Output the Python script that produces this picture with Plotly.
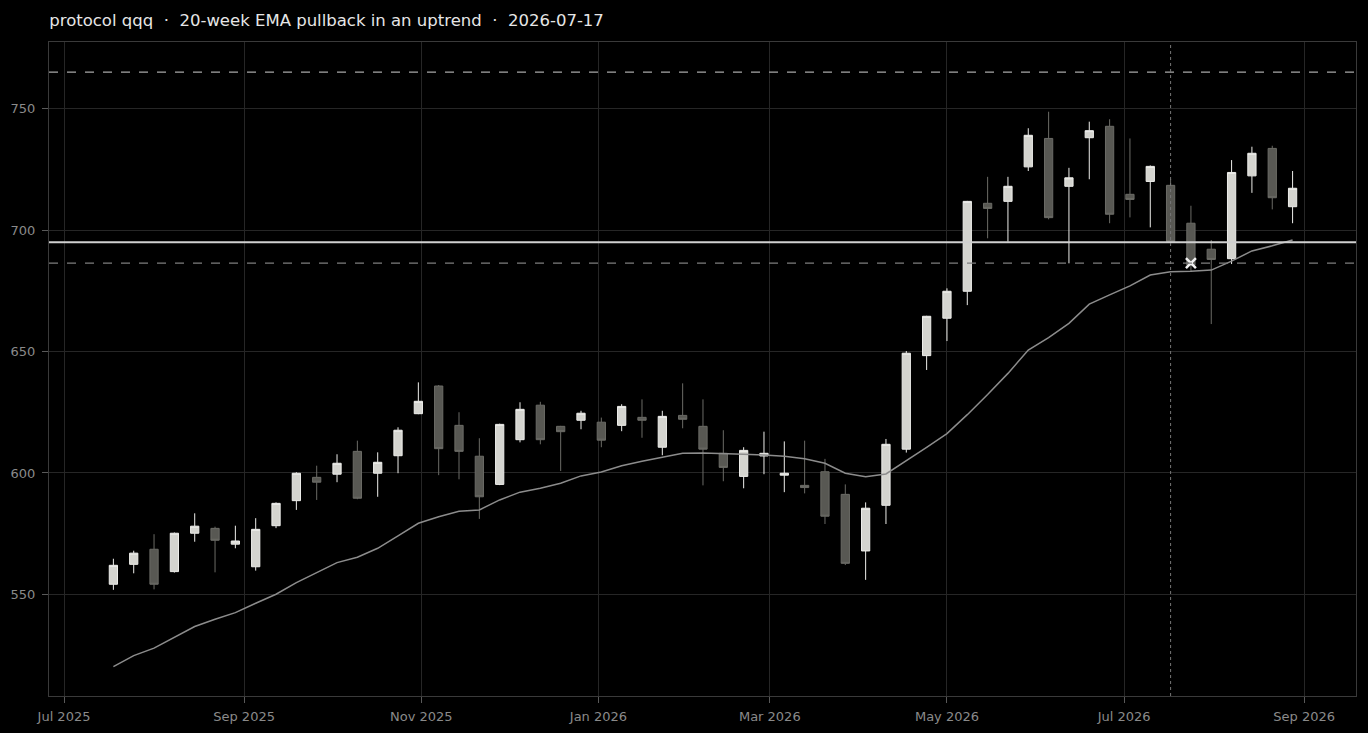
import pandas as pd
import plotly.graph_objects as go

# === Weekly candles (Friday closes) ===
weeks = pd.date_range("2025-07-18", periods=59, freq="7D")

opens = [554.2, 562.4, 568.6, 559.4, 575.2, 577.2, 570.7, 561.4, 578.3, 588.6,
         598.2, 599.5, 608.9, 599.9, 607.1, 624.4, 635.8, 619.6, 606.9, 595.3,
         613.7, 627.9, 619.2, 621.7, 620.9, 619.6, 622.9, 610.6, 623.7, 619.2,
         608.1, 598.6, 607.0, 599.1, 594.9, 600.5, 591.2, 567.9, 586.7, 609.8,
         648.3, 663.7, 674.8, 711.0, 711.8, 726.0, 737.7, 718.0, 738.0, 742.7,
         714.7, 720.0, 718.4, 702.8, 692.1, 688.2, 722.3, 733.6, 709.6]
highs = [564.7, 568.0, 574.8, 575.5, 583.4, 577.9, 578.3, 581.4, 587.9, 600.3,
         603.0, 607.7, 613.3, 608.5, 618.8, 637.3, 636.2, 625.0, 614.3, 620.3,
         629.1, 629.3, 619.4, 625.6, 622.8, 628.3, 630.3, 625.6, 636.9, 630.3,
         617.6, 610.6, 617.0, 613.0, 613.3, 605.8, 595.3, 587.9, 614.0, 650.2,
         664.7, 676.0, 712.0, 721.9, 721.9, 741.9, 748.7, 725.6, 744.6, 745.6,
         737.7, 726.6, 721.0, 710.0, 695.9, 728.8, 734.3, 734.7, 724.3]
lows = [551.9, 558.7, 552.1, 559.0, 571.7, 559.1, 569.0, 559.8, 577.3, 584.8,
        588.9, 596.2, 589.2, 590.2, 599.9, 624.2, 599.1, 597.4, 581.1, 595.0,
        612.6, 611.8, 600.8, 618.0, 610.6, 617.2, 614.5, 607.3, 618.4, 594.9,
        596.6, 593.7, 599.5, 592.1, 591.6, 579.0, 562.1, 556.0, 579.0, 608.4,
        642.4, 654.3, 669.1, 696.6, 695.2, 724.3, 704.4, 686.3, 720.9, 702.8,
        705.2, 701.1, 694.5, 682.8, 661.3, 686.0, 715.3, 708.5, 702.8]
closes = [562.0, 567.0, 554.2, 575.2, 578.1, 572.3, 572.0, 576.8, 587.5, 599.9,
          596.2, 604.0, 589.6, 604.4, 617.6, 629.5, 610.0, 608.9, 590.2, 620.0,
          626.2, 613.7, 617.0, 624.6, 613.5, 627.4, 621.7, 623.3, 622.1, 609.8,
          602.3, 609.3, 608.1, 599.9, 594.0, 582.2, 562.8, 585.5, 611.8, 649.3,
          664.5, 674.8, 711.8, 708.9, 718.0, 739.0, 705.1, 721.5, 740.9, 706.5,
          712.6, 726.2, 695.2, 685.5, 687.9, 723.7, 731.6, 713.3, 717.2]

# 20-week EMA as drawn
ema20 = [520.3, 524.8, 527.9, 532.4, 536.8, 539.8, 542.5, 546.4, 550.1, 554.9,
         559.0, 563.1, 565.3, 569.0, 574.1, 579.3, 582.0, 584.2, 584.8, 588.9,
         592.1, 593.7, 595.8, 598.8, 600.4, 603.0, 604.8, 606.5, 608.1, 608.2,
         607.8, 607.7, 607.4, 606.9, 605.9, 604.0, 599.9, 598.5, 599.6, 605.0,
         610.5, 616.2, 624.0, 632.3, 641.0, 650.6, 655.7, 661.6, 669.5, 673.3,
         677.0, 681.5, 682.8, 683.0, 683.5, 687.2, 691.4, 693.5, 695.9]

# === Levels ===
signal_date = "2026-07-17"
entry_date = "2026-07-24"
entry_level = 686.4
target_level = 765.0
ref_level = 695.0
stop_level = 686.4

title = "protocol qqq  ·  20-week EMA pullback in an uptrend  ·  2026-07-17"

fig = go.Figure()

fig.add_trace(go.Candlestick(
    x=weeks, open=opens, high=highs, low=lows, close=closes,
    increasing=dict(fillcolor="#d4d4cf", line=dict(color="#ededea", width=1)),
    decreasing=dict(fillcolor="#585853", line=dict(color="#6b6b66", width=1)),
    showlegend=False,
))

fig.add_trace(go.Scatter(
    x=weeks, y=ema20, mode="lines",
    line=dict(color="#8c8c8c", width=1.5),
    showlegend=False,
))

fig.add_trace(go.Scatter(
    x=[pd.Timestamp(entry_date)], y=[entry_level], mode="markers",
    marker=dict(symbol="x-thin", size=10, line=dict(color="#f2f2f2", width=2.5)),
    showlegend=False,
))

fig.add_hline(y=target_level, line=dict(color="#a8a8a8", width=1.2, dash="dash"))
fig.add_hline(y=stop_level, line=dict(color="#7e7e7e", width=1.2, dash="dash"))
fig.add_hline(y=ref_level, line=dict(color="#d0d0d0", width=2))
fig.add_vline(x=pd.Timestamp(signal_date).timestamp() * 1000,
              line=dict(color="#777777", width=1, dash="dot"))

axis_style = dict(
    showgrid=True, gridcolor="#262626", gridwidth=1,
    showline=True, linecolor="#3a3a3a", linewidth=1, mirror=True,
    ticks="outside", tickcolor="#5a5a5a", ticklen=6,
    tickfont=dict(color="#8a8a8a", size=13, family="DejaVu Sans"),
    zeroline=False, layer="above traces", automargin=False,
)

fig.update_xaxes(
    range=["2025-06-25 20:00", "2026-09-18 20:00"],
    dtick="M2", tickformat="%b %Y", tick0="2025-07-01",
    rangeslider=dict(visible=False), ticklabelstandoff=2,
    **axis_style,
)
fig.update_yaxes(range=[508.2, 777.4], tickvals=[550, 600, 650, 700, 750],
                 ticklabelstandoff=4, **axis_style)

fig.update_layout(
    width=1368, height=733,
    paper_bgcolor="#000000", plot_bgcolor="#000000",
    margin=dict(l=49, r=12, t=42, b=37),
    boxgap=0.42,
    title=dict(text=title, x=0.036, xanchor="left", y=0.972, yanchor="middle",
               font=dict(color="#e6e6e6", size=16.5, family="DejaVu Sans")),
    font=dict(family="DejaVu Sans"),
)

# page edge: no white body margin around the figure
fig.write_html("out.html", config={"displayModeBar": False},
               post_script="document.body.style.margin='0';document.body.style.background='#000';")
